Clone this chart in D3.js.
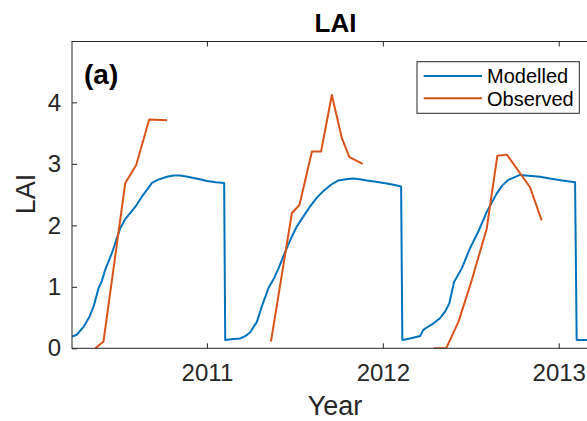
<!DOCTYPE html>
<html>
<head>
<meta charset="utf-8">
<script src="https://cdn.jsdelivr.net/npm/d3@7"></script>
<style>
    body { margin: 0; background: #fff; }
    svg { display: block; font-family: "Liberation Sans", Arial, sans-serif; }
    .axis text { fill: #262626; font-size: 24px; font-family: "Liberation Sans", Arial, sans-serif; }
    .axis line { stroke: #262626; }
</style>
</head>
<body>
<div id="chart"></div>
<script>
// modelled LAI (one continuous run)
const modelledYear = [2010.233, 2010.26, 2010.299, 2010.33, 2010.356, 2010.384, 2010.40, 2010.422, 2010.46, 2010.507,
    2010.535, 2010.564, 2010.60, 2010.631, 2010.66, 2010.688, 2010.72, 2010.773, 2010.81, 2010.848,
    2010.89, 2010.924, 2010.96, 2011.0, 2011.05, 2011.098, 2011.104, 2011.15, 2011.189, 2011.22,
    2011.246, 2011.284, 2011.312, 2011.35, 2011.38, 2011.407, 2011.445, 2011.48, 2011.511, 2011.55,
    2011.587, 2011.625, 2011.663, 2011.705, 2011.748, 2011.79, 2011.833, 2011.87, 2011.909, 2011.96,
    2012.023, 2012.06, 2012.094, 2012.104, 2012.111, 2012.155, 2012.212, 2012.23, 2012.246, 2012.29,
    2012.325, 2012.355, 2012.378, 2012.405, 2012.449, 2012.496, 2012.543, 2012.591, 2012.648, 2012.68,
    2012.714, 2012.78, 2012.894, 2012.95, 2013.02, 2013.093, 2013.102, 2013.229];
const modelledLAI = [0.19, 0.22, 0.35, 0.50, 0.68, 0.98, 1.07, 1.28, 1.55, 1.95,
    2.10, 2.20, 2.33, 2.47, 2.58, 2.69, 2.74, 2.79, 2.81, 2.81,
    2.79, 2.77, 2.75, 2.72, 2.70, 2.69, 0.135, 0.15, 0.16, 0.20,
    0.26, 0.43, 0.68, 0.98, 1.13, 1.30, 1.57, 1.80, 1.98, 2.15,
    2.31, 2.45, 2.56, 2.66, 2.73, 2.75, 2.76, 2.75, 2.73, 2.71,
    2.68, 2.66, 2.64, 2.63, 0.135, 0.16, 0.20, 0.30, 0.33, 0.41,
    0.49, 0.60, 0.73, 1.08, 1.30, 1.63, 1.90, 2.22, 2.52, 2.65,
    2.74, 2.82, 2.79, 2.76, 2.73, 2.70, 0.135, 0.135];

// observed LAI, null = gap between seasons
const observedYear = [2010.366, 2010.412, 2010.536, 2010.598, 2010.672, 2010.773, null,
    2011.364, 2011.483, 2011.526, 2011.597, 2011.649, 2011.710, 2011.767, 2011.810, 2011.886, null,
    2012.288, 2012.36, 2012.43, 2012.506, 2012.591, 2012.651, 2012.705, 2012.837, 2012.903];
const observedLAI = [0, 0.11, 2.69, 2.98, 3.72, 3.71, null,
    0.11, 2.20, 2.33, 3.20, 3.20, 4.12, 3.42, 3.11, 3.00, null,
    0, 0, 0.43, 1.11, 1.95, 3.13, 3.15, 2.62, 2.08];

const xTicks = [2011, 2012, 2013];
const yTicks = [0, 1, 2, 3, 4];
const seriesNames = ['Modelled', 'Observed'];

const modelColor = '#0072BD',
    obsColor = '#D95319',
    axisColor = '#262626';

const width = 587, height = 421;
const plotLeft = 72, plotRight = 599, plotTop = 41.5, plotBottom = 348.3;

const svg = d3.select('#chart').append('svg')
    .attr('width', width)
    .attr('height', height);

const x = d3.scaleLinear().domain([2010.233, 2013.229]).range([plotLeft, plotRight]);
const y = d3.scaleLinear().domain([0, 4.99]).range([plotBottom, plotTop]);

svg.append('clipPath').attr('id', 'plotclip')
    .append('rect')
    .attr('x', plotLeft).attr('y', plotTop)
    .attr('width', plotRight - plotLeft).attr('height', plotBottom - plotTop);

const modelled = modelledYear.map((d, i) => ({ year: d, lai: modelledLAI[i] }));
const observed = observedYear.map((d, i) => ({ year: d, lai: observedLAI[i] }));

const line = d3.line()
    .defined(d => d.year !== null && d.lai !== null)
    .x(d => x(d.year))
    .y(d => y(d.lai));

const plot = svg.append('g').attr('clip-path', 'url(#plotclip)');

plot.append('path')
    .datum(modelled)
    .attr('d', line)
    .attr('fill', 'none')
    .attr('stroke', modelColor)
    .attr('stroke-width', 2)
    .attr('stroke-linejoin', 'round');

plot.append('path')
    .datum(observed)
    .attr('d', line)
    .attr('fill', 'none')
    .attr('stroke', obsColor)
    .attr('stroke-width', 2)
    .attr('stroke-linejoin', 'round');

// axes (ticks point inward like matlab)
svg.append('g').attr('class', 'axis')
    .attr('transform', 'translate(0,' + plotBottom + ')')
    .call(d3.axisBottom(x).tickValues(xTicks).tickSize(-5).tickSizeOuter(0).tickPadding(16).tickFormat(d3.format('d')))
    .call(g => g.select('.domain').remove());

svg.append('g').attr('class', 'axis')
    .attr('transform', 'translate(0,' + plotTop + ')')
    .call(d3.axisTop(x).tickValues(xTicks).tickSize(-5).tickSizeOuter(0).tickFormat(''))
    .call(g => g.select('.domain').remove());

svg.append('g').attr('class', 'axis')
    .attr('transform', 'translate(' + plotLeft + ',0)')
    .call(d3.axisLeft(y).tickValues(yTicks).tickSize(-5).tickSizeOuter(0).tickPadding(11).tickFormat(d3.format('d')))
    .call(g => g.select('.domain').remove());

// box
svg.append('rect')
    .attr('x', plotLeft).attr('y', plotTop)
    .attr('width', plotRight - plotLeft).attr('height', plotBottom - plotTop)
    .attr('fill', 'none')
    .attr('stroke', axisColor)
    .attr('stroke-width', 1);

// labels
svg.append('text')
    .attr('x', 335.5).attr('y', 31.7)
    .attr('text-anchor', 'middle')
    .attr('font-size', 26).attr('font-weight', 'bold')
    .attr('fill', '#000')
    .text('LAI');

svg.append('text')
    .attr('x', 335).attr('y', 415)
    .attr('text-anchor', 'middle')
    .attr('font-size', 27)
    .attr('fill', axisColor)
    .text('Year');

svg.append('text')
    .attr('transform', 'translate(35,194) rotate(-90)')
    .attr('text-anchor', 'middle')
    .attr('font-size', 27)
    .attr('fill', axisColor)
    .text('LAI');

svg.append('text')
    .attr('x', 84).attr('y', 84)
    .attr('font-size', 28).attr('font-weight', 'bold')
    .attr('fill', '#000')
    .text('(a)');

// legend
const legend = svg.append('g').attr('class', 'legend');
legend.append('rect')
    .attr('x', 417).attr('y', 61.7)
    .attr('width', 162.3).attr('height', 51.6)
    .attr('fill', '#fff')
    .attr('stroke', axisColor)
    .attr('stroke-width', 1);

const legendColors = [modelColor, obsColor];
const legendY = d3.scalePoint().domain(seriesNames).range([76, 98.3]);

seriesNames.forEach((name, i) => {
    legend.append('line')
        .attr('x1', 423.7).attr('x2', 482)
        .attr('y1', legendY(name)).attr('y2', legendY(name))
        .attr('stroke', legendColors[i])
        .attr('stroke-width', 2);
    legend.append('text')
        .attr('x', 487).attr('y', legendY(name))
        .attr('dy', '0.36em')
        .attr('font-size', 20)
        .attr('fill', '#000')
        .text(name);
});
</script>
</body>
</html>
